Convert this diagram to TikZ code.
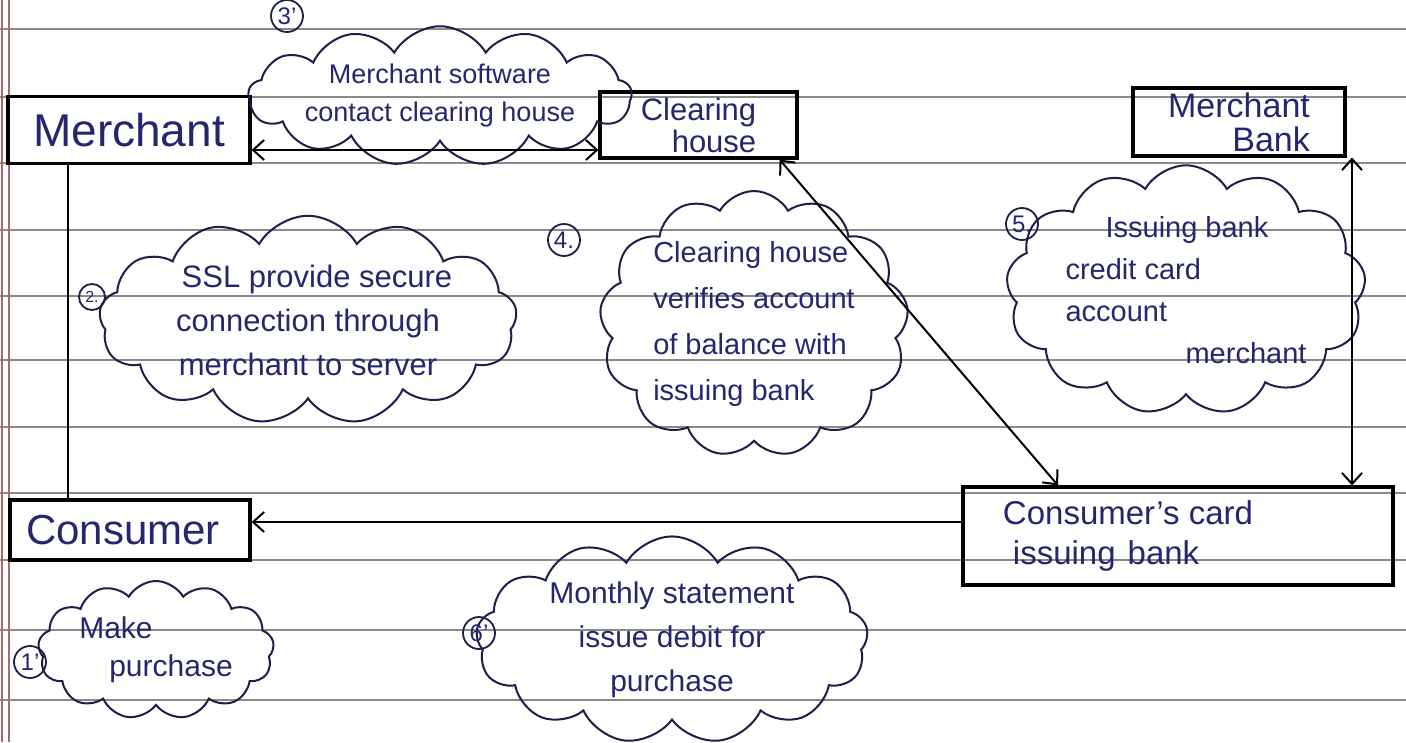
\documentclass[tikz,border=0pt]{standalone}
\usepackage{fontspec}
\setmainfont{Liberation Sans}
\usetikzlibrary{shapes.symbols,shapes.geometric,arrows.meta}
\definecolor{ink}{HTML}{26266E}
\definecolor{cloudink}{HTML}{1E1E4A}
\definecolor{rule}{HTML}{8A8A8A}
\definecolor{margin}{HTML}{A86A6A}
\tikzset{
  box/.style={draw=black, line width=3.2pt, text=ink, inner sep=4pt},
  bubble/.style={cloud, cloud puffs=13, cloud puff arc=120, cloud ignores aspect, draw=cloudink, line width=2pt, text=ink, align=center, inner sep=0pt},
  numc/.style={circle, draw=cloudink, line width=1.8pt, text=ink, inner sep=1pt, minimum size=32pt, font=\fontsize{24}{26}\selectfont},
  link/.style={line width=2pt, black},
  tip/.style={-{Straight Barb[length=11pt,width=20pt,line width=2pt]}},
  tips/.style={{Straight Barb[length=11pt,width=20pt,line width=2pt]}-{Straight Barb[length=11pt,width=20pt,line width=2pt]}},
  ruled/.style={rule, line width=1.6pt}
}
\begin{document}
\begin{tikzpicture}[x=1pt,y=-1pt]
\useasboundingbox (0,0) rectangle (1406,742);
\fill[white] (0,0) rectangle (1406,742);
% ruled paper
\foreach \yy in {29,97,163,230,296,360,427,493,560,630,700}
  \draw[ruled] (0,\yy) -- (1406,\yy);
\draw[margin, line width=1.2pt] (2,0) -- (2,742);
\draw[margin, line width=1.2pt] (9,0) -- (9,742);

% boxes
\node[box, minimum width=242pt, minimum height=67pt, font=\fontsize{46}{50}\selectfont] (merchant) at (129,130) {Merchant};
\node[box, minimum width=197pt, minimum height=66pt, align=right, font=\fontsize{31}{32}\selectfont] (clearing) at (698.5,125) {Clearing\\house};
\node[box, minimum width=212pt, minimum height=68pt, align=right, font=\fontsize{34}{34}\selectfont] (mbank) at (1239,122) {Merchant\\Bank};
\node[box, minimum width=240pt, minimum height=60pt, font=\fontsize{42}{44}\selectfont] (consumer) at (130,530) {Consumer\hspace*{14pt}};
\node[box, minimum width=430pt, minimum height=98pt, align=left, font=\fontsize{33}{40}\selectfont] (ibank) at (1178,536) {Consumer's card\hspace*{100pt}\\\hspace*{10pt}issuing\hspace*{12pt}bank};

% clouds
\node[bubble, minimum width=360pt, minimum height=106pt, font=\fontsize{27}{38}\selectfont] (c3) at (440,96) {Merchant software\\contact clearing house};
\node[bubble, minimum width=410pt, minimum height=195pt, font=\fontsize{31}{44}\selectfont] (c2) at (308,320) {\hspace*{18pt}SSL provide secure\\connection through\hspace*{30pt}\\merchant to server};
\node[bubble, minimum width=292pt, minimum height=250pt, font=\fontsize{29}{46}\selectfont, align=left] (c4) at (754,324) {Clearing house\\verifies account\\of balance with\\issuing bank};
\node[bubble, minimum width=315pt, minimum height=208pt, font=\fontsize{29}{42}\selectfont, align=left] (c5) at (1186,290) {\hspace*{40pt}Issuing bank\\credit card\\account\\\hspace*{120pt}merchant};
\node[bubble, minimum width=236pt, minimum height=138pt, font=\fontsize{30}{38}\selectfont, align=left] (c1) at (156,650) {Make\\\hspace*{30pt}purchase};
\node[bubble, minimum width=392pt, minimum height=172pt, font=\fontsize{30}{44}\selectfont] (c6) at (672,640) {Monthly statement\\issue debit for\\purchase};

% step numbers
\node[numc] (n3) at (287,16) {3'};
\node[numc, minimum size=26pt, font=\fontsize{16}{17}\selectfont] (n2) at (92,297) {2.};
\node[numc] (n4) at (564,240) {4.};
\node[numc] (n5) at (1022,224) {5.};
\node[numc] (n1) at (30,662) {1'};
\node[numc] (n6) at (479,633) {6'};

% connectors
\draw[link, tips] ([yshift=-20pt]merchant.east) -- ([yshift=-25pt]clearing.west);
\draw[link, line width=2.4pt] ([xshift=-61pt]merchant.south) -- ([xshift=-62pt]consumer.north);
\draw[link, tips] ([xshift=-19pt]clearing.south east) -- ([xshift=-120pt]ibank.north);
\draw[link, tips] ([xshift=113pt]mbank.south) -- ([xshift=174pt]ibank.north);
\draw[link, tip] ([yshift=14pt]ibank.west) -- ([yshift=8pt]consumer.east);
\end{tikzpicture}
\end{document}
